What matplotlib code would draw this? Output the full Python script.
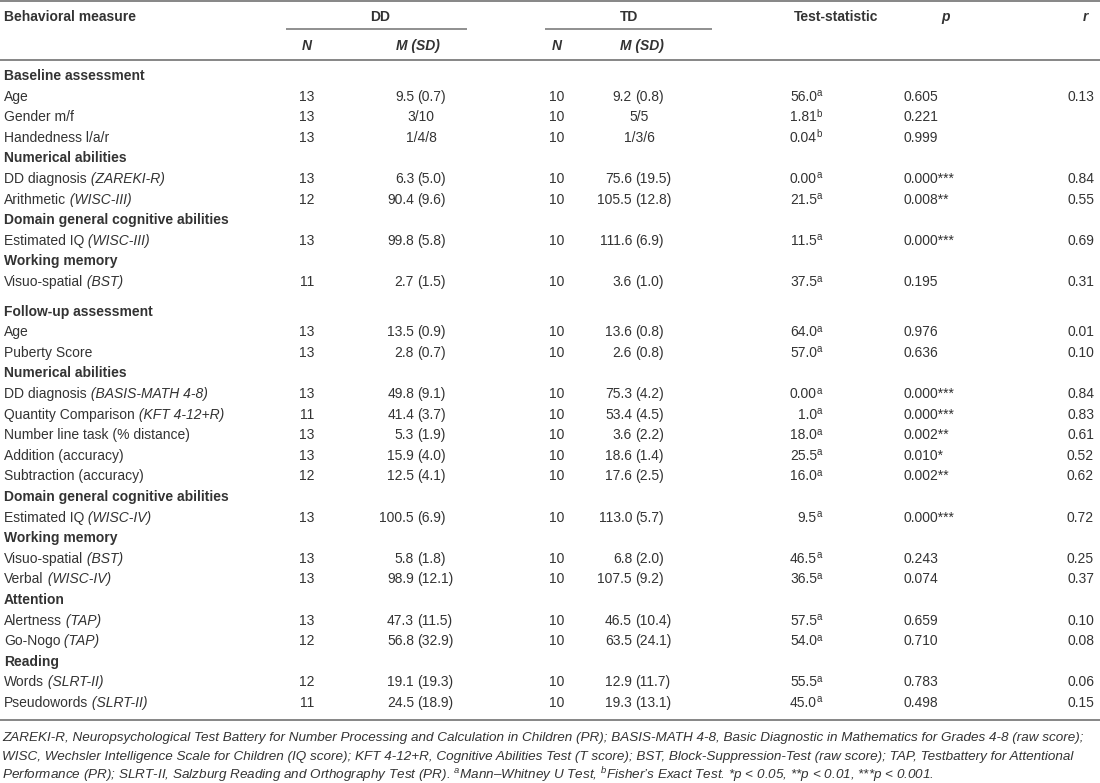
import matplotlib
matplotlib.use('Agg')
import matplotlib.pyplot as plt

plt.rcParams['font.family'] = ['Liberation Sans', 'DejaVu Sans']
plt.rcParams['mathtext.fontset'] = 'custom'
plt.rcParams['mathtext.rm'] = 'Liberation Sans'
plt.rcParams['mathtext.it'] = 'Liberation Sans:italic'

# table rows; rows with an empty dd_n are bold section headings
labels = ['Baseline assessment', 'Age', 'Gender m/f', 'Handedness l/a/r',
          'Numerical abilities', 'DD diagnosis', 'Arithmetic',
          'Domain general cognitive abilities', 'Estimated IQ',
          'Working memory', 'Visuo-spatial',
          'Follow-up assessment', 'Age', 'Puberty Score',
          'Numerical abilities', 'DD diagnosis', 'Quantity Comparison',
          'Number line task (% distance)', 'Addition (accuracy)', 'Subtraction (accuracy)',
          'Domain general cognitive abilities', 'Estimated IQ',
          'Working memory', 'Visuo-spatial', 'Verbal',
          'Attention', 'Alertness', 'Go-Nogo',
          'Reading', 'Words', 'Pseudowords']
instruments = ['', '', '', '',
               '', 'ZAREKI-R', 'WISC-III',
               '', 'WISC-III',
               '', 'BST',
               '', '', '',
               '', 'BASIS-MATH 4-8', 'KFT 4-12+R',
               '', '', '',
               '', 'WISC-IV',
               '', 'BST', 'WISC-IV',
               '', 'TAP', 'TAP',
               '', 'SLRT-II', 'SLRT-II']
dd_n = ['', '13', '13', '13', '', '13', '12', '', '13', '', '11',
        '', '13', '13', '', '13', '11', '13', '13', '12', '', '13',
        '', '13', '13', '', '13', '12', '', '12', '11']
dd_m = ['', '9.5', '3/10', '1/4/8', '', '6.3', '90.4', '', '99.8', '', '2.7',
        '', '13.5', '2.8', '', '49.8', '41.4', '5.3', '15.9', '12.5', '', '100.5',
        '', '5.8', '98.9', '', '47.3', '56.8', '', '19.1', '24.5']
dd_sd = ['', '0.7', '', '', '', '5.0', '9.6', '', '5.8', '', '1.5',
         '', '0.9', '0.7', '', '9.1', '3.7', '1.9', '4.0', '4.1', '', '6.9',
         '', '1.8', '12.1', '', '11.5', '32.9', '', '19.3', '18.9']
td_n = ['', '10', '10', '10', '', '10', '10', '', '10', '', '10',
        '', '10', '10', '', '10', '10', '10', '10', '10', '', '10',
        '', '10', '10', '', '10', '10', '', '10', '10']
td_m = ['', '9.2', '5/5', '1/3/6', '', '75.6', '105.5', '', '111.6', '', '3.6',
        '', '13.6', '2.6', '', '75.3', '53.4', '3.6', '18.6', '17.6', '', '113.0',
        '', '6.8', '107.5', '', '46.5', '63.5', '', '12.9', '19.3']
td_sd = ['', '0.8', '', '', '', '19.5', '12.8', '', '6.9', '', '1.0',
         '', '0.8', '0.8', '', '4.2', '4.5', '2.2', '1.4', '2.5', '', '5.7',
         '', '2.0', '9.2', '', '10.4', '24.1', '', '11.7', '13.1']
stat = ['', '56.0', '1.81', '0.04', '', '0.00', '21.5', '', '11.5', '', '37.5',
        '', '64.0', '57.0', '', '0.00', '1.0', '18.0', '25.5', '16.0', '', '9.5',
        '', '46.5', '36.5', '', '57.5', '54.0', '', '55.5', '45.0']
stat_note = ['', 'a', 'b', 'b', '', 'a', 'a', '', 'a', '', 'a',
             '', 'a', 'a', '', 'a', 'a', 'a', 'a', 'a', '', 'a',
             '', 'a', 'a', '', 'a', 'a', '', 'a', 'a']
p_val = ['', '0.605', '0.221', '0.999', '', '0.000***', '0.008**', '', '0.000***', '', '0.195',
         '', '0.976', '0.636', '', '0.000***', '0.000***', '0.002**', '0.010*', '0.002**', '',
         '0.000***', '', '0.243', '0.074', '', '0.659', '0.710', '', '0.783', '0.498']
r_val = ['', '0.13', '', '', '', '0.84', '0.55', '', '0.69', '', '0.31',
         '', '0.01', '0.10', '', '0.84', '0.83', '0.61', '0.52', '0.62', '', '0.72',
         '', '0.25', '0.37', '', '0.10', '0.08', '', '0.06', '0.15']

footnotes = [
    'ZAREKI-R, Neuropsychological Test Battery for Number Processing and Calculation in Children (PR); '
    'BASIS-MATH 4-8, Basic Diagnostic in Mathematics for Grades 4-8 (raw score);',
    'WISC, Wechsler Intelligence Scale for Children (IQ score); KFT 4-12+R, Cognitive Abilities Test (T score); '
    'BST, Block-Suppression-Test (raw score); TAP, Testbattery for Attentional',
    'Performance (PR); SLRT-II, Salzburg Reading and Orthography Test (PR). $^{a}$Mann\u2013Whitney U Test, '
    '$^{b}$Fisher\u2019s Exact Test. *p < 0.05, **p < 0.01, ***p < 0.001.',
]

W, H = 1100, 783
TXT = '#333333'
RULE = '#7d7d7d'
FS = 10

fig = plt.figure(figsize=(W / 100, H / 100), dpi=100)
ax = fig.add_axes([0, 0, 1, 1])
ax.set_xlim(0, W)
ax.set_ylim(H, 0)
ax.axis('off')

# column anchors (pixels)
x_lab = 4
x_ddn, x_ddm = 307, 414
x_tdn, x_tdm = 557, 632
x_stat, x_p, x_r = 822, 904, 1094


def rule(y, x0=0, x1=W, lw=1.3):
    ax.plot([x0, x1], [y, y], color=RULE, lw=lw, solid_capstyle='butt')


def txt(x, y, s, ha='left', **kw):
    # y is the middle of the capitals; draw on the baseline below it
    kw.setdefault('fontsize', FS)
    kw.setdefault('color', TXT)
    return ax.text(x, y + 0.36 * FS * 100 / 72, s, ha=ha, va='baseline', **kw)


# header
rule(1.2)
y_h1, y_h2 = 16, 45
txt(x_lab, y_h1, 'Behavioral measure', fontweight='bold')
txt(380, y_h1, 'DD', ha='center', fontweight='bold')
txt(629, y_h1, 'TD', ha='center', fontweight='bold')
txt(836, y_h1, 'Test-statistic', ha='center', fontweight='bold')
txt(946, y_h1, 'p', ha='center', fontweight='bold', style='italic')
txt(1085, y_h1, 'r', ha='center', fontweight='bold', style='italic')
rule(29, 286, 467, lw=1.2)
rule(29, 545, 712, lw=1.2)
for xn, xm in [(x_ddn, 418), (x_tdn, 642)]:
    txt(xn, y_h2, 'N', ha='center', fontweight='bold', style='italic')
    txt(xm, y_h2, 'M (SD)', ha='center', fontweight='bold', style='italic')
rule(60)

# body
y0, dy, gap = 75, 20.6, 9
for i, lab in enumerate(labels):
    y = y0 + i * dy + (gap if i >= 11 else 0)
    if dd_n[i] == '':
        txt(x_lab, y, lab, fontweight='bold')
        continue
    t = txt(x_lab, y, lab)
    if instruments[i]:
        ax.annotate(' (' + instruments[i] + ')', xy=(1, 0.5), xycoords=t,
                    ha='left', va='center', fontsize=FS, color=TXT, style='italic')
    txt(x_ddn, y, dd_n[i], ha='center')
    txt(x_tdn, y, td_n[i], ha='center')
    for xm, m, sd in [(x_ddm, dd_m[i], dd_sd[i]), (x_tdm, td_m[i], td_sd[i])]:
        if sd:
            txt(xm, y, m, ha='right')
            txt(xm + 3.5, y, '(' + sd + ')')
        else:
            txt(xm + 7, y, m, ha='center')
    txt(x_stat - 5, y, stat[i], ha='right')
    txt(x_stat - 5.5, y - 4.5, stat_note[i], fontsize=7)
    txt(x_p, y, p_val[i])
    if r_val[i]:
        txt(x_r, y, r_val[i], ha='right')

rule(720)

# footnotes
for k, line in enumerate(footnotes):
    txt(2, 736 + k * 19, line, fontsize=9.7, style='italic')

fig.savefig('out.png', dpi=100)
